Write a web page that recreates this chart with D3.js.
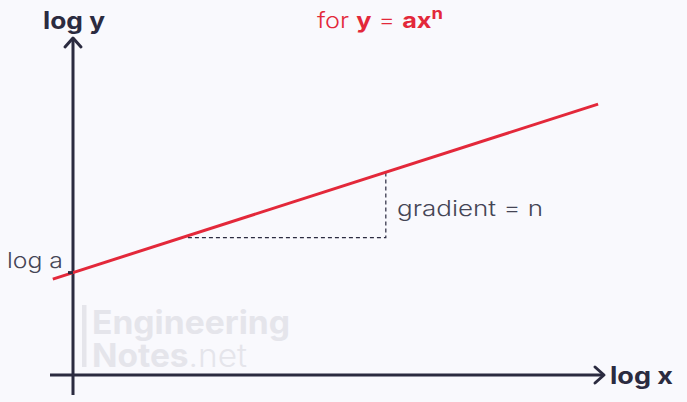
<!DOCTYPE html>
<html><head><meta charset="utf-8">
<script src="https://cdn.jsdelivr.net/npm/d3@7"></script>
<style>html,body{margin:0;padding:0;background:#f9f9fd;}svg{display:block;}</style>
</head><body>
<script>
// data (abstract log units)
const lineX = [-0.38, 9.87];
const logA = [3.03];
const gradientN = [0.505];
const triangleX = [2.16, 5.88];
const axisLabels = ["log x", "log y"];
const annotations = ["log a", "gradient = n"];

const W = 687, H = 402;
const svg = d3.select("body").append("svg").attr("width", W).attr("height", H);
svg.append("rect").attr("width", W).attr("height", H).attr("fill", "#f9f9fd");

const x = d3.scaleLinear().domain([0, 10]).range([73, 605]);
const y = d3.scaleLinear().domain([0, 10]).range([375, 37]);
const f = v => logA[0] + gradientN[0] * v;
const axisCol = "#2b2b40", red = "#e3283a";
const FONT = "Inter, Lato, sans-serif";

// watermark
const wm = svg.append("g").attr("fill", "#e5e5eb").style("font-family", FONT).attr("font-size", 32);
wm.append("rect").attr("x", 82).attr("y", 305).attr("width", 4.5).attr("height", 62);
wm.append("text").attr("x", 92).attr("y", 334).attr("font-weight", 700)
  .attr("textLength", 198).attr("lengthAdjust", "spacingAndGlyphs").text("Engineering");
const t2 = wm.append("text").attr("x", 92).attr("y", 367).attr("textLength", 155).attr("lengthAdjust", "spacingAndGlyphs");
t2.append("tspan").attr("font-weight", 700).text("Notes");
t2.append("tspan").attr("font-weight", 300).text(".net");

// axes
svg.append("line").attr("x1", x(0)).attr("x2", x(0)).attr("y1", 395).attr("y2", y(10) + 1)
  .attr("stroke", axisCol).attr("stroke-width", 3);
svg.append("path").attr("d", `M${x(0)-8},${y(10)+10}L${x(0)},${y(10)+1}L${x(0)+8},${y(10)+10}`)
  .attr("fill", "none").attr("stroke", axisCol).attr("stroke-width", 3).attr("stroke-linejoin", "round").attr("stroke-linecap", "round");
svg.append("line").attr("x1", 50).attr("x2", x(10) - 1).attr("y1", y(0)).attr("y2", y(0))
  .attr("stroke", axisCol).attr("stroke-width", 3);
svg.append("path").attr("d", `M${x(10)-10},${y(0)-8}L${x(10)-1},${y(0)}L${x(10)-10},${y(0)+8}`)
  .attr("fill", "none").attr("stroke", axisCol).attr("stroke-width", 3).attr("stroke-linejoin", "round").attr("stroke-linecap", "round");

svg.append("text").attr("x", 610).attr("y", 384).attr("fill", axisCol).style("font-family", FONT)
  .attr("font-weight", 700).attr("font-size", 24).attr("textLength", 63).attr("lengthAdjust", "spacingAndGlyphs").text(axisLabels[0]);
svg.append("text").attr("x", 43).attr("y", 29).attr("fill", axisCol).style("font-family", FONT)
  .attr("font-weight", 700).attr("font-size", 24).attr("textLength", 62).attr("lengthAdjust", "spacingAndGlyphs").text(axisLabels[1]);

// dashed triangle
svg.append("path")
  .attr("d", `M${x(triangleX[0])},${y(f(triangleX[0]))+2}H${x(triangleX[1])}V${y(f(triangleX[1]))}`)
  .attr("fill", "none").attr("stroke", axisCol).attr("stroke-width", 1.2).attr("stroke-dasharray", "4,3");

// red line
svg.append("line").attr("x1", x(lineX[0])).attr("y1", y(f(lineX[0])))
  .attr("x2", x(lineX[1])).attr("y2", y(f(lineX[1])))
  .attr("stroke", red).attr("stroke-width", 3);

// log a tick
svg.append("line").attr("x1", x(0) - 5).attr("x2", x(0)).attr("y1", y(logA[0])).attr("y2", y(logA[0]))
  .attr("stroke", axisCol).attr("stroke-width", 3);

svg.append("text").attr("x", 7).attr("y", 268).attr("fill", "#454555").style("font-family", FONT)
  .attr("font-weight", 300).attr("font-size", 22).attr("textLength", 56).attr("lengthAdjust", "spacingAndGlyphs").text(annotations[0]);
svg.append("text").attr("x", 397).attr("y", 216).attr("fill", "#454555").style("font-family", FONT)
  .attr("font-weight", 300).attr("font-size", 22).attr("textLength", 146).attr("lengthAdjust", "spacingAndGlyphs").text(annotations[1]);

// title
const title = svg.append("text").attr("x", 317).attr("y", 28).attr("fill", red).style("font-family", FONT).attr("font-size", 22)
  .attr("textLength", 126).attr("lengthAdjust", "spacingAndGlyphs");
title.append("tspan").attr("font-weight", 300).text("for ");
title.append("tspan").attr("font-weight", 700).text("y");
title.append("tspan").attr("font-weight", 300).text(" = ");
title.append("tspan").attr("font-weight", 700).text("ax");
title.append("tspan").attr("font-weight", 700).attr("font-size", 16).attr("dy", -9).text("n");
</script>
</body></html>
